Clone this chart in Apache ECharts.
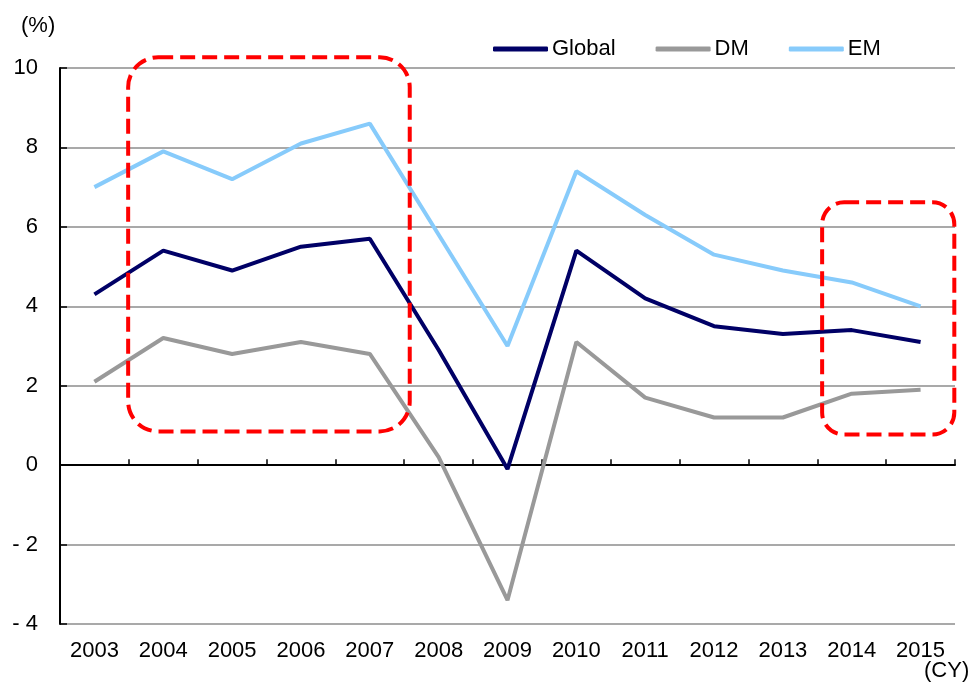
<!DOCTYPE html>
<html>
<head>
<meta charset="utf-8">
<script src="https://cdn.jsdelivr.net/npm/echarts@6/dist/echarts.min.js"></script>
<style>
  html, body { margin: 0; padding: 0; background: #fff; }
  #chart { width: 976px; height: 683px; }
</style>
</head>
<body>
<div id="chart"></div>
<script>
// GDP growth by calendar year (%)
const years = ['2003','2004','2005','2006','2007','2008','2009','2010','2011','2012','2013','2014','2015'];
const globalGrowth = [4.3, 5.4, 4.9, 5.5, 5.7, 2.9, -0.1, 5.4, 4.2, 3.5, 3.3, 3.4, 3.1];
const dmGrowth     = [2.1, 3.2, 2.8, 3.1, 2.8, 0.2, -3.4, 3.1, 1.7, 1.2, 1.2, 1.8, 1.9];
const emGrowth     = [7.0, 7.9, 7.2, 8.1, 8.6, 5.8, 3.0, 7.4, 6.3, 5.3, 4.9, 4.6, 4.0];

// Highlighted periods: [from category index, to category index, top value, bottom value]
const highlightBoxes = [
  [0.49, 4.58, 10.27, 0.85],
  [10.57, 12.49, 6.62, 0.77]
];

const font = 'Liberation Sans, Arial, sans-serif';
const chart = echarts.init(document.getElementById('chart'));

chart.setOption({
  animation: false,
  backgroundColor: '#fff',
  textStyle: { fontFamily: font },
  grid: { left: 60, right: 21, top: 68, bottom: 59 },
  legend: {
    left: 488, top: 33,
    icon: 'roundRect',
    itemWidth: 55, itemHeight: 5,
    itemGap: 40,
    textStyle: { fontFamily: font, fontSize: 22, color: '#000', padding: [0, 0, 0, -1] },
    data: ['Global', 'DM', 'EM']
  },
  xAxis: [
    {
      type: 'category', data: years, position: 'bottom',
      axisLine: { show: false, onZero: false },
      axisTick: { show: false },
      axisLabel: { fontFamily: font, fontSize: 22, color: '#000', margin: 16 }
    },
    {
      type: 'category', data: years, position: 'bottom',
      axisLine: { show: true, onZero: true, lineStyle: { color: '#000', width: 2 } },
      axisTick: { show: true, inside: true, length: 6, lineStyle: { color: '#000', width: 1.5 } },
      axisLabel: { show: false }
    }
  ],
  yAxis: {
    type: 'value', min: -4, max: 10, interval: 2,
    axisLine: { show: true, lineStyle: { color: '#000', width: 2 } },
    axisTick: { show: true, inside: true, length: 7, lineStyle: { color: '#000', width: 1.5 } },
    splitLine: { show: true, lineStyle: { color: '#8c8c8c', width: 1.5 } },
    axisLabel: {
      fontFamily: font, fontSize: 22, color: '#000', margin: 22,
      formatter: v => v < 0 ? '- ' + Math.abs(v) : String(v)
    }
  },
  series: [
    { name: 'Global', type: 'line', data: globalGrowth, symbol: 'none',
      lineStyle: { color: '#000066', width: 4 }, itemStyle: { color: '#000066' } },
    { name: 'DM', type: 'line', data: dmGrowth, symbol: 'none',
      lineStyle: { color: '#999999', width: 4 }, itemStyle: { color: '#999999' } },
    { name: 'EM', type: 'line', data: emGrowth, symbol: 'none',
      lineStyle: { color: '#87cbfb', width: 4 }, itemStyle: { color: '#87cbfb' } }
  ]
});

// Dashed rounded boxes placed through the axes' own scales
function drawBoxes() {
  const x0 = chart.convertToPixel({ xAxisIndex: 0 }, years[0]);
  const step = chart.convertToPixel({ xAxisIndex: 0 }, years[1]) - x0;
  const elements = highlightBoxes.map(([i0, i1, vTop, vBottom], k) => {
    const xl = x0 + step * i0, xr = x0 + step * i1;
    const yt = chart.convertToPixel({ yAxisIndex: 0 }, vTop);
    const yb = chart.convertToPixel({ yAxisIndex: 0 }, vBottom);
    return {
      type: 'rect', z: 100,
      shape: { x: xl, y: yt, width: xr - xl, height: yb - yt, r: k === 0 ? 30 : 22 },
      style: { fill: 'none', stroke: '#ff0000', lineWidth: 4, lineDash: [15, 7] }
    };
  });
  elements.push(
    { type: 'text', left: 21, top: 15, z: 100,
      style: { text: '(%)', font: '22px ' + font, fill: '#000' } },
    { type: 'text', left: 924, top: 660, z: 100,
      style: { text: '(CY)', font: '22px ' + font, fill: '#000' } }
  );
  chart.setOption({ graphic: elements });
}
drawBoxes();
</script>
</body>
</html>
